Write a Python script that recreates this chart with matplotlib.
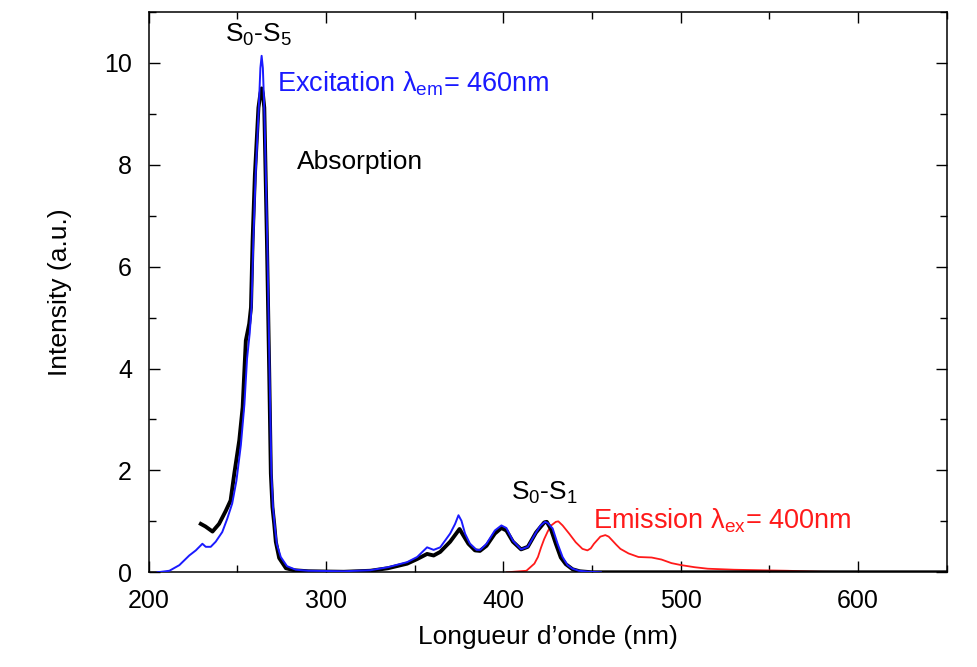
import matplotlib
matplotlib.use("Agg")
import matplotlib.pyplot as plt
from matplotlib.ticker import MultipleLocator

plt.rcParams['font.family'] = ['Liberation Sans', 'DejaVu Sans']
plt.rcParams['mathtext.fontset'] = 'custom'
plt.rcParams['mathtext.rm'] = 'Liberation Sans'
plt.rcParams['mathtext.it'] = 'Liberation Sans:italic'

# Absorption (black)
abs_wl = [229.4, 232, 236, 239.7, 243.4, 246.2, 248.3, 251.1, 253, 253.9, 254.8, 256.7,
          257.7, 258.6, 259.9, 261.9, 263.0, 263.7, 264.4, 265.2, 266.7, 268.0, 268.9,
          269.8, 270.8, 271.7, 273.6, 277.4, 282, 290, 310, 325, 335, 345.8, 351.4, 357,
          360.7, 364.4, 370, 373.4, 375.3, 377.5, 380.3, 384, 386.8, 390.5, 395.2,
          398.9, 401.7, 405.4, 410, 413.8, 418.4, 423.1, 424.5, 426.8, 429.6, 432.4,
          435.2, 439, 443, 450, 500, 550, 600, 650]
abs_val = [0.95, 0.9, 0.8, 0.95, 1.2, 1.41, 1.94, 2.59, 3.24, 3.9, 4.55, 4.88,
           5.2, 6.5, 7.8, 9.12, 9.4, 9.5, 9.4, 9.12, 6.5, 3.9, 1.94,
           1.28, 0.95, 0.6, 0.28, 0.08, 0.04, 0.02, 0.01, 0.03, 0.08, 0.17, 0.26, 0.36,
           0.33, 0.4, 0.6, 0.76, 0.85, 0.72, 0.56, 0.43, 0.42, 0.52, 0.76,
           0.87, 0.82, 0.6, 0.45, 0.5, 0.78, 0.98, 0.99, 0.85, 0.56, 0.29,
           0.16, 0.06, 0.02, 0.0, 0.0, 0.0, 0.0, 0.0]

# Excitation (blue)
exc_wl = [205, 211.7, 217.3, 222.9, 226.6, 230.3, 232.2, 235, 237.8, 241.5, 244.3,
          247.1, 249.5, 252, 254, 255.5, 257, 258, 259, 260.3, 262.2, 263.0, 263.7, 264.4,
          265.3, 266.9, 268.2, 269.2, 270.1, 271.3, 272.3, 274.5, 278, 283, 290, 310,
          325, 335, 345.8, 351.4, 357, 360.7, 364.4, 370, 372.8, 374.7, 376.4, 378.4,
          381.2, 384.9, 387, 390.5, 395.2, 398.9, 401.7, 405.4, 410, 413.8, 418.4,
          421, 423.5, 425, 427.8, 430.6, 433.4, 436.2, 439, 442.6, 448.3, 455]
exc_val = [0.0, 0.03, 0.14, 0.33, 0.43, 0.56, 0.5, 0.5, 0.6, 0.79, 1.05,
           1.35, 1.8, 2.5, 3.3, 4.2, 4.7, 5.2, 6.5, 7.8, 9.2, 9.9, 10.14, 9.9,
           9.0, 6.5, 3.9, 1.94, 1.28, 0.85, 0.55, 0.3, 0.12, 0.05, 0.03, 0.02,
           0.04, 0.1, 0.2, 0.3, 0.49, 0.44, 0.49, 0.76, 0.95, 1.12, 1.01, 0.76,
           0.56, 0.44, 0.44, 0.56, 0.82, 0.92, 0.87, 0.62, 0.45, 0.5, 0.78,
           0.92, 0.99, 0.97, 0.86, 0.56, 0.3, 0.14, 0.07, 0.03, 0.01, 0.0]

# Emission (red)
em_wl = [402, 413, 417.5, 419.5, 421.3, 423, 425, 427, 429.6, 431, 433.4, 437.1,
         440.8, 444.6, 447.4, 449.3, 451.1, 454.7, 457.5, 459.4, 461.3, 463.7, 466,
         470.6, 476.2, 483.6, 489.2, 494.8, 500.4, 507.8, 515.3, 522.8, 530.2, 545,
         560, 580, 600, 650]
em_val = [0.0, 0.03, 0.17, 0.3, 0.49, 0.65, 0.8, 0.92, 0.99, 1.0, 0.92, 0.76,
          0.59, 0.46, 0.43, 0.47, 0.56, 0.7, 0.73, 0.7, 0.63, 0.54, 0.46,
          0.37, 0.3, 0.29, 0.25, 0.18, 0.14, 0.1, 0.07, 0.06, 0.05, 0.04,
          0.03, 0.01, 0.005, 0.0]

fig = plt.figure(figsize=(9.78, 6.67), dpi=100)
ax = fig.add_axes([0.152, 0.142, 0.816, 0.840])

ax.plot(em_wl, em_val, color='#ff1a1a', lw=1.3, zorder=2)
ax.plot(abs_wl, abs_val, color='black', lw=2.8, zorder=3, solid_joinstyle='round')
ax.plot(exc_wl, exc_val, color='#1a1aff', lw=1.4, zorder=4, solid_joinstyle='round')

ax.set_xlim(200, 650)
ax.set_ylim(0, 11)
ax.xaxis.set_major_locator(MultipleLocator(100))
ax.xaxis.set_minor_locator(MultipleLocator(50))
ax.yaxis.set_major_locator(MultipleLocator(2))
ax.yaxis.set_minor_locator(MultipleLocator(1))
ax.tick_params(which='both', direction='in', top=True, right=True, width=1)
ax.tick_params(which='major', length=8, labelsize=18, pad=12)
ax.tick_params(which='minor', length=5)
for s in ax.spines.values():
    s.set_linewidth(1.1)

ax.set_xlabel("Longueur d\u2019onde (nm)", fontsize=19, labelpad=9)
ax.set_ylabel("Intensity (a.u.)", fontsize=19, labelpad=23)

ax.text(262, 10.55, "S$_0$-S$_5$", fontsize=19, ha='center', va='center', color='black')
ax.text(272.6, 9.6, "Excitation \u03bb$_{\\mathrm{em}}$= 460nm", fontsize=19.5, ha='left',
        va='center', color='#1a1aff')
ax.text(283.5, 8.05, "Absorption", fontsize=19, ha='left', va='center', color='black')
ax.text(404.5, 1.55, "S$_0$-S$_1$", fontsize=19, ha='left', va='center', color='black')
ax.text(450.3, 1.02, "Emission \u03bb$_{\\mathrm{ex}}$= 400nm", fontsize=19.5, ha='left',
        va='center', color='#ff1a1a')

fig.savefig("out.png", dpi=100)
